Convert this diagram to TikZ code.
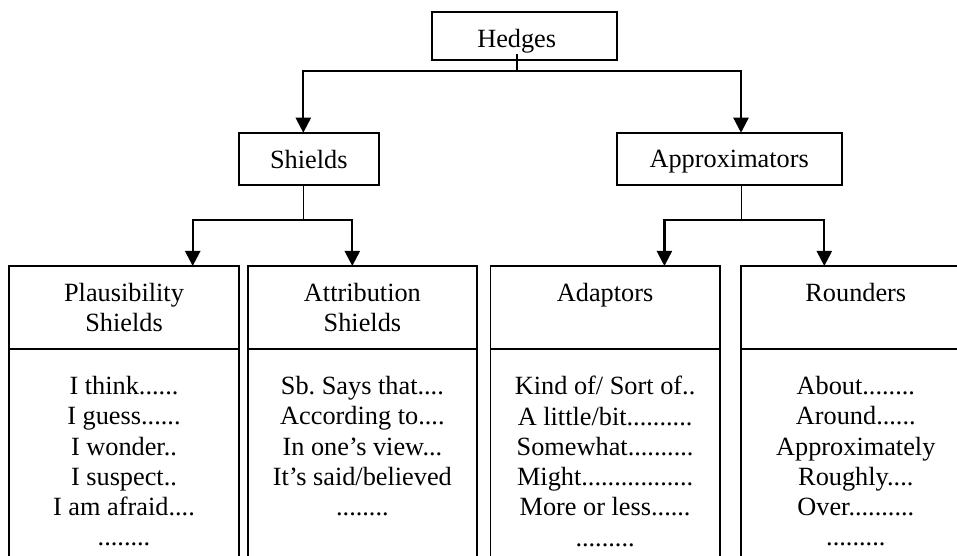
\documentclass[tikz,border=0pt]{standalone}
\usepackage{fontspec}
\setmainfont{Liberation Serif}
\usetikzlibrary{positioning,arrows.meta}

\begin{document}
\frenchspacing
\begin{tikzpicture}[x=1pt, y=1pt, font=\fontsize{26.3pt}{30.3pt}\selectfont] %Hedges
           \tikzstyle{mainbox} = [rectangle, draw, line width=1.7pt, outer sep=0pt, text depth=0pt, minimum height=52.3pt]
           \tikzstyle{headbox} = [rectangle, draw, line width=1.7pt, outer sep=0pt, minimum width=229.5pt, minimum height=83.3pt, align=center]
           \tikzstyle{bodybox} = [rectangle, draw, line width=1.7pt, outer sep=0pt, minimum width=229.5pt, minimum height=300pt]
           \tikzstyle{listtext} = [inner sep=0pt, align=center]
           \tikzstyle{arrow} = [line width=2.3pt, -{Triangle[length=15pt, width=15pt]}]
           \tikzstyle{stem} = [line width=1.6pt]
           \useasboundingbox (0,0) rectangle (957,556);
           \clip (0,0) rectangle (957,556);
           \node[mainbox, minimum width=185pt, minimum height=48pt] (H) at (524.5,520) {};
           \node[inner sep=0pt, anchor=base] (Ht) at (516.7,508) {Hedges};
           \coordinate (Hj) at (516.7,485);
           \node[mainbox, minimum width=139.7pt] (S) at (308.8,397.1) {Shields};
           \node[mainbox, minimum width=225pt] (A) at (729.2,397.1) {Approximators};
           \coordinate (Sj) at (303.3,335.7);
           \coordinate (Aj) at (741.5,335.7);
           \node[headbox] (P) at (124,248.35) {Plausibility\\Shields};
           \node[headbox, right=8.9pt of P] (T) {Attribution\\Shields};
           \node[headbox, right=13.2pt of T] (D) {Adaptors\\\mbox{}};
           \node[headbox, right=21.2pt of D] (R) {Rounders\\\mbox{}};
           \foreach \b in {P,T,D,R}
           {
               \node[bodybox, below=0pt of \b] (\b-body) {};
           }
           \node[listtext, below=26.7pt of P] (P-list) {I think......\\I guess......\\I wonder..\\I suspect..\\I am afraid....\\........};
           \node[listtext, below=26.7pt of T] (T-list) {Sb. Says that....\\According to....\\In one’s view...\\It’s said/believed\\........};
           \node[listtext, below=26.7pt of D] (D-list) {Kind of/ Sort of..\\A little/bit..........\\Somewhat..........\\Might.................\\More or less......\\.........};
           \node[listtext, below=26.7pt of R] (R-list) {About........\\Around......\\Approximately\\Roughly....\\Over..........\\.........};
           \draw[stem] (Ht.south) -- (Hj);
           \draw[arrow] (Hj) -| ([xshift=-5.5pt]S.north);
           \draw[arrow] (Hj) -| ([xshift=11.8pt]A.north);
           \draw[stem] ([xshift=-5.5pt]S.south) -- (Sj);
           \draw[stem] ([xshift=12.3pt]A.south) -- (Aj);
           \foreach \j/\n/\s in {Sj/P/68.7, Sj/T/-10.1, Aj/D/59.3, Aj/R/-31.5}
           {
               \draw[arrow] (\j) -| ([xshift=\s pt]\n.north);
           }
\end{tikzpicture}
\end{document}
